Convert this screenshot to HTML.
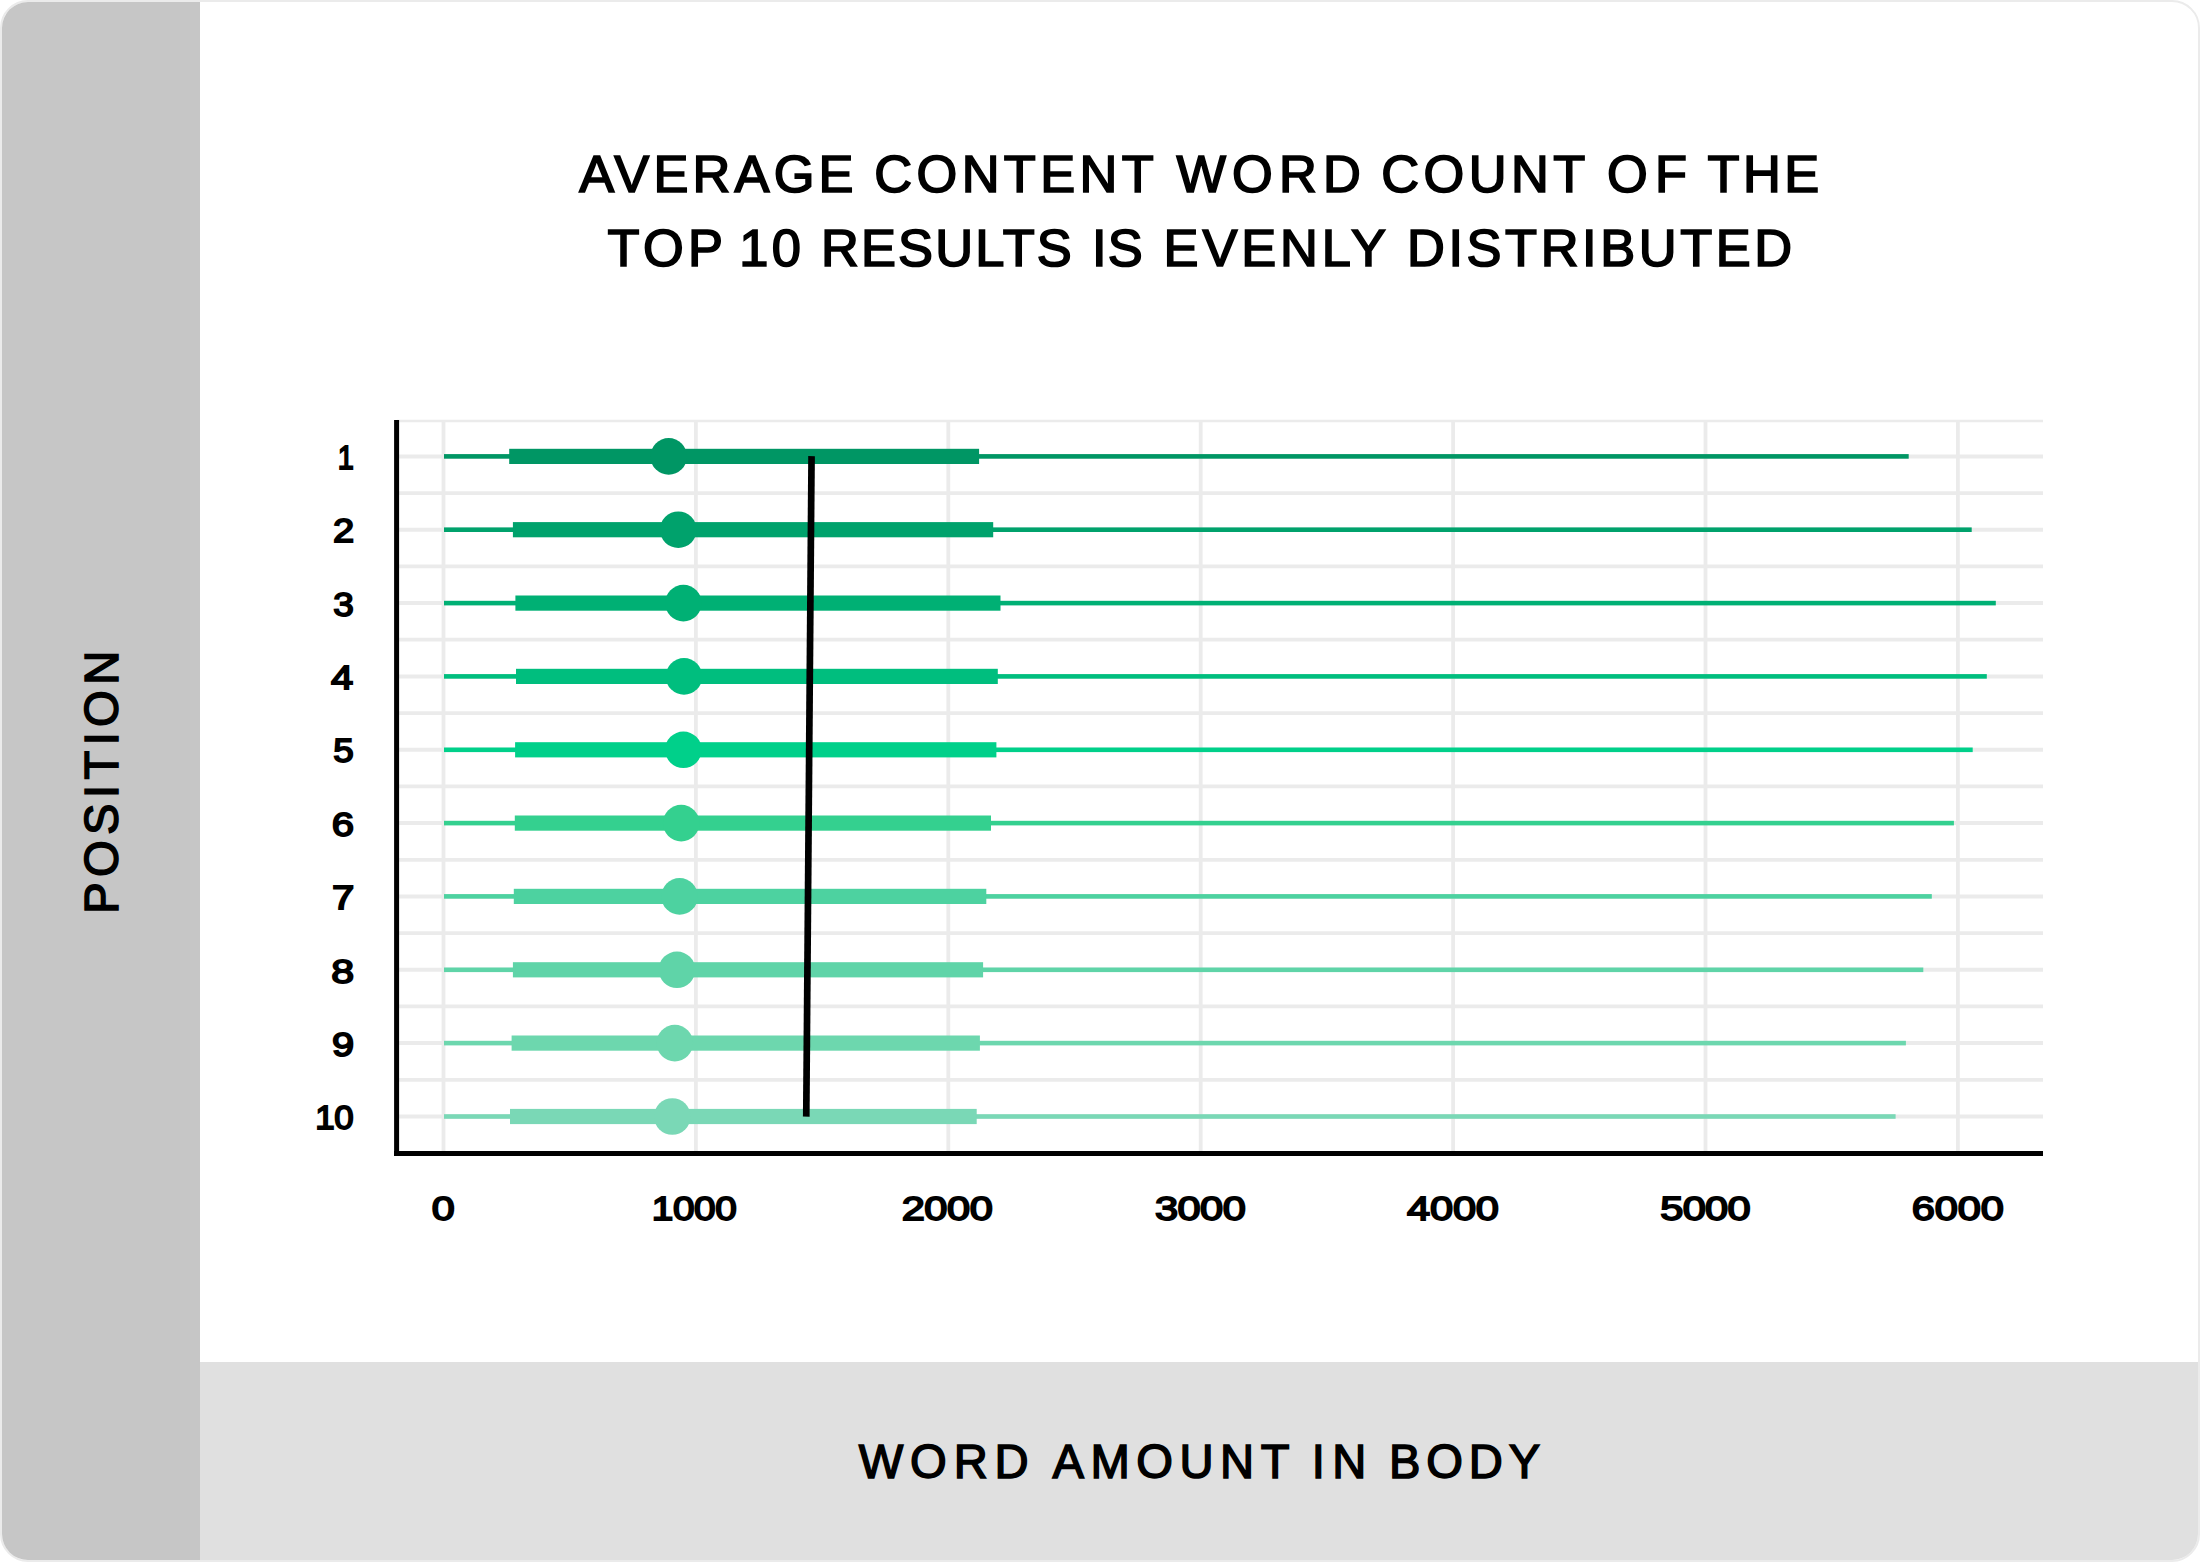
<!DOCTYPE html>
<html lang="en">
<head>
<meta charset="utf-8">
<title>Average content word count of the top 10 results is evenly distributed</title>
<style>
html,body{margin:0;padding:0;background:#fff;}
body{width:2200px;height:1562px;overflow:hidden;}
svg{display:block;}
text{font-family:"Liberation Sans",Arial,Helvetica,sans-serif;fill:#000;}
.t{font-size:52.4px;stroke:#000;stroke-width:1.7px;}
.ax{font-size:34.1px;stroke:#000;stroke-width:1.8px;}
.lab{font-size:47.2px;stroke:#000;stroke-width:1.5px;}
</style>
</head>
<body>
<svg width="2200" height="1562" viewBox="0 0 2200 1562">
<defs><clipPath id="card"><rect x="2" y="2" width="2196" height="1558" rx="26" ry="26"/></clipPath></defs>
<rect x="1" y="1" width="2198" height="1560" rx="27" ry="27" fill="#ffffff" stroke="#ebebeb" stroke-width="2"/>
<g clip-path="url(#card)">
<rect x="0" y="0" width="200" height="1562" fill="#c6c6c6"/>
<rect x="200" y="1362" width="2000" height="200" fill="#e0e0e0"/>
</g>
<g fill="none" stroke="#ebebeb" stroke-width="3.8">
<path d="M397 421H2043" stroke-width="2.4"/>
<path d="M443.5 420V1152"/>
<path d="M695.9 420V1152"/>
<path d="M948.3 420V1152"/>
<path d="M1200.7 420V1152"/>
<path d="M1453.1 420V1152"/>
<path d="M1705.5 420V1152"/>
<path d="M1957.9 420V1152"/>
<path d="M397 456.4H2043" stroke-width="4"/>
<path d="M397 493.1H2043"/>
<path d="M397 529.7H2043" stroke-width="4"/>
<path d="M397 566.4H2043"/>
<path d="M397 603.1H2043" stroke-width="4"/>
<path d="M397 639.7H2043"/>
<path d="M397 676.4H2043" stroke-width="4"/>
<path d="M397 713.1H2043"/>
<path d="M397 749.8H2043" stroke-width="4"/>
<path d="M397 786.4H2043"/>
<path d="M397 823.1H2043" stroke-width="4"/>
<path d="M397 859.8H2043"/>
<path d="M397 896.4H2043" stroke-width="4"/>
<path d="M397 933.1H2043"/>
<path d="M397 969.8H2043" stroke-width="4"/>
<path d="M397 1006.4H2043"/>
<path d="M397 1043.1H2043" stroke-width="4"/>
<path d="M397 1079.8H2043"/>
<path d="M397 1116.5H2043" stroke-width="4"/>
</g>
<path d="M396.6 420V1155.9" stroke="#000" stroke-width="5" fill="none"/>
<path d="M394 1153.5H2043" stroke="#000" stroke-width="4.8" fill="none"/>
<g fill="#009664" stroke="none"><rect x="444.0" y="454.1" width="1464.7" height="4.6"/><rect x="509.2" y="448.8" width="469.9" height="15.2"/><circle cx="668.7" cy="456.4" r="18.3"/></g>
<g fill="#00a26c" stroke="none"><rect x="444.0" y="527.4" width="1527.7" height="4.6"/><rect x="512.9" y="522.1" width="480.3" height="15.2"/><circle cx="678.3" cy="529.7" r="18.3"/></g>
<g fill="#00b074" stroke="none"><rect x="444.0" y="600.8" width="1551.8" height="4.6"/><rect x="515.4" y="595.5" width="485.1" height="15.2"/><circle cx="683.4" cy="603.1" r="18.3"/></g>
<g fill="#00be7e" stroke="none"><rect x="444.0" y="674.1" width="1542.8" height="4.6"/><rect x="516.0" y="668.8" width="481.8" height="15.2"/><circle cx="684.0" cy="676.4" r="18.3"/></g>
<g fill="#00d08a" stroke="none"><rect x="444.0" y="747.5" width="1528.7" height="4.6"/><rect x="515.1" y="742.2" width="481.3" height="15.2"/><circle cx="683.4" cy="749.8" r="18.3"/></g>
<g fill="#34d08f" stroke="none"><rect x="444.0" y="820.8" width="1509.9" height="4.6"/><rect x="514.8" y="815.5" width="476.2" height="15.2"/><circle cx="681.2" cy="823.1" r="18.3"/></g>
<g fill="#4dd2a0" stroke="none"><rect x="444.0" y="894.1" width="1487.8" height="4.6"/><rect x="513.8" y="888.8" width="472.5" height="15.2"/><circle cx="679.6" cy="896.4" r="18.3"/></g>
<g fill="#5fd4a8" stroke="none"><rect x="444.0" y="967.5" width="1479.3" height="4.6"/><rect x="512.9" y="962.2" width="470.2" height="15.2"/><circle cx="677.0" cy="969.8" r="18.3"/></g>
<g fill="#6dd7ae" stroke="none"><rect x="444.0" y="1040.8" width="1461.9" height="4.6"/><rect x="511.6" y="1035.5" width="468.3" height="15.2"/><circle cx="674.8" cy="1043.1" r="18.3"/></g>
<g fill="#7ad8b6" stroke="none"><rect x="444.0" y="1114.2" width="1451.6" height="4.6"/><rect x="510.0" y="1108.9" width="466.7" height="15.2"/><circle cx="672.3" cy="1116.5" r="18.3"/></g>
<path d="M811.55 456.1L806.25 1116.6" stroke="#000" stroke-width="6.7" fill="none"/>
<text class="t" y="192.00"><tspan x="579.14" letter-spacing="4.163">AVERAGE</tspan> <tspan x="874.29" letter-spacing="4.380">CONTENT</tspan> <tspan x="1176.57" letter-spacing="6.095">WORD</tspan> <tspan x="1381.29" letter-spacing="4.442">COUNT</tspan> <tspan x="1606.97" letter-spacing="7.263">OF</tspan> <tspan x="1707.58" letter-spacing="3.365">THE</tspan></text>
<text class="t" y="266.00"><tspan x="607.58" letter-spacing="4.349">TOP</tspan> <tspan x="739.31" letter-spacing="3.271">10</tspan> <tspan x="820.97" letter-spacing="2.173">RESULTS</tspan> <tspan x="1092.00" letter-spacing="1.180">IS</tspan> <tspan x="1163.55" letter-spacing="3.884">EVENLY</tspan> <tspan x="1406.97" letter-spacing="3.583">DISTRIBUTED</tspan></text>
<text class="lab" y="1477.80"><tspan x="858.68" letter-spacing="6.856">WORD</tspan> <tspan x="1052.53" letter-spacing="6.497">AMOUNT</tspan> <tspan x="1311.72" letter-spacing="7.492">IN</tspan> <tspan x="1389.01" letter-spacing="5.811">BODY</tspan></text>
<g>
<text class="ax" transform="translate(431.86 1220.10) scale(1.2116 1)" letter-spacing="0.000">0</text>
<text class="ax" transform="translate(651.85 1220.10) scale(1.1390 1)" letter-spacing="-0.400">1000</text>
<text class="ax" transform="translate(901.65 1220.10) scale(1.2200 1)" letter-spacing="-0.375">2000</text>
<text class="ax" transform="translate(1154.95 1220.10) scale(1.2200 1)" letter-spacing="-0.460">3000</text>
<text class="ax" transform="translate(1407.06 1220.10) scale(1.2200 1)" letter-spacing="-0.166">4000</text>
<text class="ax" transform="translate(1660.35 1220.10) scale(1.2200 1)" letter-spacing="-0.618">5000</text>
<text class="ax" transform="translate(1911.65 1220.10) scale(1.2200 1)" letter-spacing="-0.102">6000</text>
</g>
<g>
<text class="ax" transform="translate(337.80 468.90) scale(0.8500 1)" letter-spacing="0.000">1</text>
<text class="ax" transform="translate(332.93 542.20) scale(1.1189 1)" letter-spacing="0.000">2</text>
<text class="ax" transform="translate(333.37 615.50) scale(1.0823 1)" letter-spacing="0.000">3</text>
<text class="ax" transform="translate(331.11 688.60) scale(1.1701 1)" letter-spacing="0.000">4</text>
<text class="ax" transform="translate(333.36 762.40) scale(1.0799 1)" letter-spacing="0.000">5</text>
<text class="ax" transform="translate(331.73 835.70) scale(1.1751 1)" letter-spacing="0.000">6</text>
<text class="ax" transform="translate(331.88 909.30) scale(1.1792 1)" letter-spacing="0.000">7</text>
<text class="ax" transform="translate(331.24 982.50) scale(1.2053 1)" letter-spacing="0.000">8</text>
<text class="ax" transform="translate(332.00 1055.70) scale(1.1672 1)" letter-spacing="0.000">9</text>
<text class="ax" transform="translate(315.27 1129.00) scale(1.0243 1)" letter-spacing="-0.400">10</text>
</g>
<text class="lab" transform="translate(117.7 910.6) rotate(-90) translate(-3.20 0.00) scale(1.0000 1)" letter-spacing="5.371">POSITION</text>
</svg>
</body>
</html>
